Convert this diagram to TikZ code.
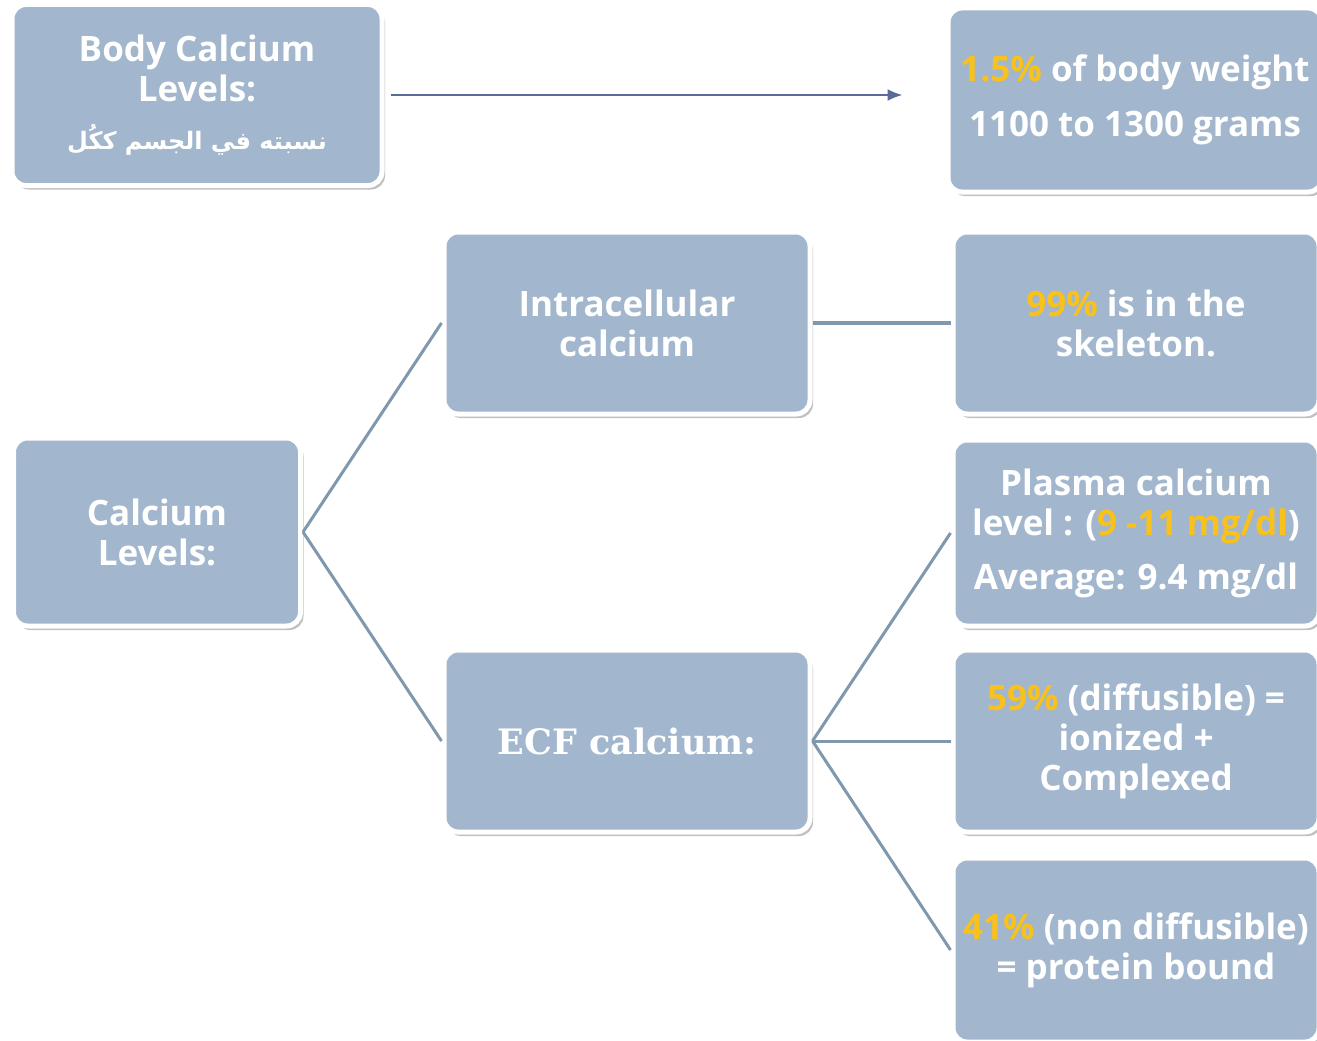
\documentclass[tikz,border=0pt]{standalone}
\usepackage{fontspec}
\setmainfont{Open Sans}
\newfontfamily\arabicfont[Script=Arabic]{DejaVu Sans}
\newfontfamily\serifbox{DejaVu Serif}
\TeXXeTstate=1
\usetikzlibrary{arrows.meta,shadows}
\definecolor{boxblue}{HTML}{A2B7CD}
\definecolor{hiyellow}{HTML}{F8C11C}
\definecolor{linkgray}{HTML}{8098AD}
\definecolor{arrowblue}{HTML}{5D6B9B}
\newcommand{\hl}[1]{\textcolor{hiyellow}{#1}}

\begin{document}
\begin{tikzpicture}[x=1pt,y=-1pt,
    info box/.style={rectangle,rounded corners=14pt,fill=boxblue,draw=white,line width=5pt,
      drop shadow={shadow xshift=3pt,shadow yshift=-4pt,opacity=0.45,fill=black!55},
      text=white,font=\fontsize{35}{40}\selectfont\bfseries,align=center,inner sep=0pt,
      minimum width=366pt,minimum height=182pt},
    link/.style={draw=linkgray,line width=3pt}]
    \useasboundingbox (0,0) rectangle (1317,1041);
    \clip (0,0) rectangle (1317,1041);

    \node[info box,minimum width=370pt,minimum height=181pt] (body) at (197,95)
        {Body Calcium\\Levels:\\[8pt]{\arabicfont\fontsize{24}{30}\selectfont\beginR نسبته في الجسم ككُل\endR}};
    \node[info box,minimum width=374pt,minimum height=184pt] (weight) at (1135,100)
        {\hl{1.5\%} of body weight\\[15pt]1100 to 1300 grams};
    \node[info box] (intra) at (627,323) {Intracellular\\calcium};
    \node[info box] (skeleton) at (1136,323) {\hl{99\%} is in the\\skeleton.};
    \node[info box,minimum width=287pt,minimum height=188pt] (levels) at (157,532)
        {Calcium\\Levels:};
    \node[info box,minimum height=186pt] (plasma) at (1136,533)
        {Plasma calcium\\level : (\hl{9 -11 mg/dl})\\[14pt]Average: 9.4 mg/dl};
    \node[info box,font=\fontsize{35}{40}\selectfont\serifbox\bfseries] (ecf) at (627,741)
        {ECF calcium:};
    \node[info box] (diffusible) at (1136,741)
        {\hl{59\%} (diffusible) =\\ionized +\\Complexed};
    \node[info box,minimum height=184pt] (bound) at (1136,950)
        {\hl{41\%} (non diffusible)\\= protein bound};

    \draw[-{Latex[length=15pt,width=12pt]},arrowblue,line width=2pt,
        shorten <=6pt,shorten >=43pt] (body.east) -- (weight.west |- body.east);

    \path[link]
        (levels.east) edge (intra.west)
        (levels.east) edge (ecf.west)
        (ecf.east) edge (plasma.west)
        (ecf.east) edge (diffusible.west)
        (ecf.east) edge (bound.west);
    \draw[link,line width=4pt] (intra.east) -- (skeleton.west);
\end{tikzpicture}
\end{document}
